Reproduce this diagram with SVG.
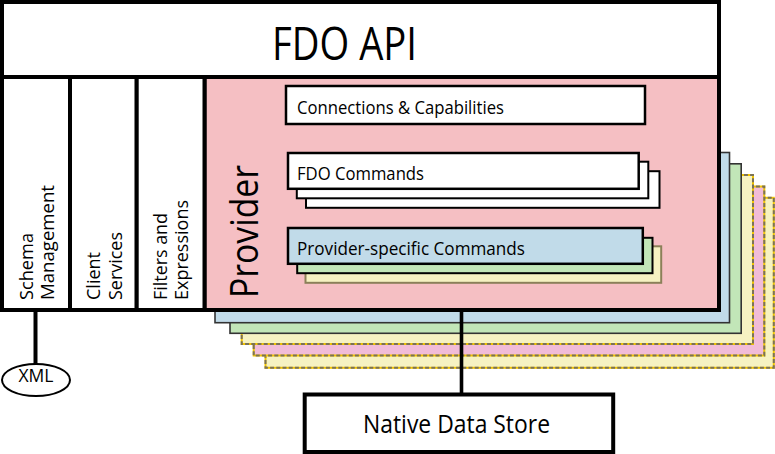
<svg xmlns="http://www.w3.org/2000/svg" width="775" height="454" viewBox="0 0 775 454">
<style>
  text { font-family: "Open Sans", "Noto Sans", "Liberation Sans", sans-serif; fill: #000; }
  .thick { stroke: #000; stroke-width: 4; }
  .layer { stroke: #333; stroke-width: 1.6; }
  .dashbase { stroke: #f2c400; stroke-width: 2; }
  .dash { fill: none; stroke: #7a7258; stroke-width: 2; stroke-dasharray: 4 2.2; }
  .cmd { fill: #fff; stroke: #000; stroke-width: 2.5; }
  .lbl { font-size: 18px; }
  .col { font-size: 17.5px; }
</style>

<g id="provider-stack">
  <rect x="265.5" y="197.8" width="508.3" height="170" fill="#f6f2c2" class="dashbase"/>
  <rect x="265.5" y="197.8" width="508.3" height="170" class="dash"/>
  <rect x="253.7" y="186.5" width="510.6" height="169" fill="#f1bcd8" class="dashbase"/>
  <rect x="253.7" y="186.5" width="510.6" height="169" class="dash"/>
  <rect x="241.7" y="175" width="511.3" height="169" fill="#f6f2c2" class="dashbase"/>
  <rect x="241.7" y="175" width="511.3" height="169" class="dash"/>
  <rect x="230" y="163.8" width="511.2" height="169.5" fill="#c2e6b8" class="layer"/>
  <rect x="215" y="152.5" width="514.5" height="170.2" fill="#c1dbe9" class="layer"/>
</g>

<g id="provider">
  <rect x="204.5" y="77" width="514.5" height="233" fill="#f5bfc3" class="thick"/>
  <text font-size="39" textLength="133" lengthAdjust="spacingAndGlyphs" transform="translate(258,298) rotate(-90)">Provider</text>
</g>

<g id="connections">
  <rect x="286" y="86" width="359" height="38" class="cmd"/>
  <text class="lbl" x="297" y="114" textLength="207" lengthAdjust="spacingAndGlyphs">Connections &amp; Capabilities</text>
</g>

<g id="fdo-commands">
  <rect x="306" y="171.2" width="353.5" height="36.6" fill="#fff" stroke="#000" stroke-width="2"/>
  <rect x="296.8" y="161.7" width="351.5" height="36.6" fill="#fff" stroke="#000" stroke-width="2"/>
  <rect x="288" y="153" width="350.7" height="35.8" class="cmd"/>
  <text class="lbl" x="297" y="180" textLength="127" lengthAdjust="spacingAndGlyphs">FDO Commands</text>
</g>

<g id="provider-commands">
  <rect x="305.5" y="246.3" width="355.7" height="36.5" fill="#f6f2c2" stroke="#8b8059" stroke-width="2"/>
  <rect x="297.2" y="237.8" width="355.3" height="35.4" fill="#c2e6b8" stroke="#000" stroke-width="2"/>
  <rect x="288" y="228" width="354.8" height="35.8" fill="#c1dbe9" stroke="#000" stroke-width="2.5"/>
  <text class="lbl" x="297" y="255" textLength="228" lengthAdjust="spacingAndGlyphs">Provider-specific Commands</text>
</g>

<g id="fdo-api">
  <rect x="2" y="2" width="717" height="75" fill="#fff" class="thick"/>
  <text x="272" y="60" font-size="46" textLength="145" lengthAdjust="spacingAndGlyphs">FDO API</text>
</g>

<g id="schema-management">
  <rect x="2" y="77" width="68" height="233" fill="#fff" class="thick"/>
  <text class="col" textLength="67" lengthAdjust="spacingAndGlyphs" transform="translate(33.3,300) rotate(-90)">Schema</text>
  <text class="col" textLength="115" lengthAdjust="spacingAndGlyphs" transform="translate(54,300) rotate(-90)">Management</text>
</g>

<g id="client-services">
  <rect x="70" y="77" width="66.7" height="233" fill="#fff" class="thick"/>
  <text class="col" textLength="48" lengthAdjust="spacingAndGlyphs" transform="translate(100,300) rotate(-90)">Client</text>
  <text class="col" textLength="68" lengthAdjust="spacingAndGlyphs" transform="translate(121.5,300) rotate(-90)">Services</text>
</g>

<g id="filters-expressions">
  <rect x="136.7" y="77" width="67.8" height="233" fill="#fff" class="thick"/>
  <text class="col" textLength="87" lengthAdjust="spacingAndGlyphs" transform="translate(166.7,300) rotate(-90)">Filters and</text>
  <text class="col" textLength="100" lengthAdjust="spacingAndGlyphs" transform="translate(188.3,300) rotate(-90)">Expressions</text>
</g>

<g id="connectors">
  <line x1="35.5" y1="312" x2="35.5" y2="364" stroke="#000" stroke-width="4"/>
  <line x1="461.5" y1="312" x2="461.5" y2="393" stroke="#000" stroke-width="3.6"/>
</g>

<g id="xml">
  <ellipse cx="36" cy="380" rx="34" ry="16" fill="#fff" stroke="#000" stroke-width="2"/>
  <text x="36" y="382" font-size="18" text-anchor="middle" textLength="35" lengthAdjust="spacingAndGlyphs">XML</text>
</g>

<g id="native-data-store">
  <rect x="304.7" y="394.5" width="308.5" height="57.5" fill="#fff" class="thick"/>
  <text x="363" y="433" font-size="26" textLength="187" lengthAdjust="spacingAndGlyphs">Native Data Store</text>
</g>
</svg>
